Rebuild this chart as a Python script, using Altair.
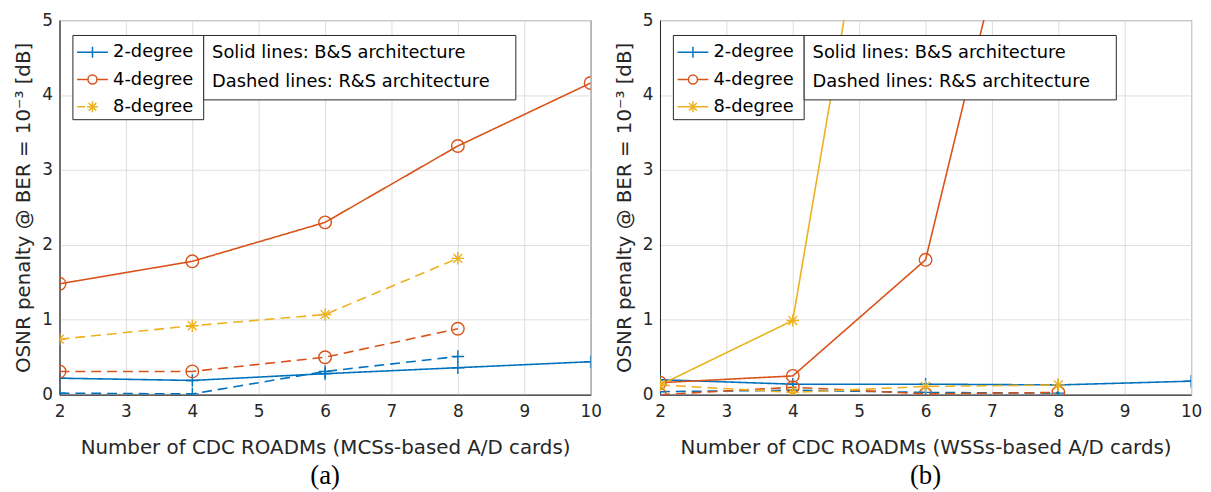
import altair as alt
import pandas as pd

degrees = ["2-degree", "4-degree", "8-degree"]
colors = ["#0072BD", "#D95319", "#EDB120"]
archs = ["B&S", "R&S"]

# Panel (a): MCSs-based A/D cards
a_x5 = [2, 4, 6, 8, 10]
a_x4 = [2, 4, 6, 8]
a_2deg_bs = [0.22, 0.19, 0.28, 0.36, 0.44]
a_4deg_bs = [1.48, 1.78, 2.30, 3.32, 4.16]
a_2deg_rs = [0.02, 0.01, 0.31, 0.51]
a_4deg_rs = [0.31, 0.31, 0.50, 0.88]
a_8deg_rs = [0.74, 0.92, 1.07, 1.82]

# Panel (b): WSSs-based A/D cards
b_x5 = [2, 4, 6, 8, 10]
b_x4 = [2, 4, 6, 8]
b_x3 = [2, 4, 6]
b_2deg_bs = [0.20, 0.14, 0.14, 0.13, 0.18]
b_4deg_bs = [0.16, 0.25, 1.80, 9.1]
b_8deg_bs = [0.13, 0.99, 11.4]
b_2deg_rs = [0.04, 0.06, 0.03, 0.02]
b_4deg_rs = [0.00, 0.10, 0.01, 0.03]
b_8deg_rs = [0.13, 0.03, 0.11, 0.13]

y_title = "OSNR penalty @ BER = 10\u207b\u00b3 [dB]"
font = "DejaVu Sans"


def rows(xs, ys, deg, arch):
    return [{"x": x, "y": y, "degree": deg, "arch": arch} for x, y in zip(xs, ys)]


df_a = pd.DataFrame(
    rows(a_x5, a_2deg_bs, "2-degree", "B&S")
    + rows(a_x5, a_4deg_bs, "4-degree", "B&S")
    + rows(a_x4, a_2deg_rs, "2-degree", "R&S")
    + rows(a_x4, a_4deg_rs, "4-degree", "R&S")
    + rows(a_x4, a_8deg_rs, "8-degree", "R&S")
)
df_b = pd.DataFrame(
    rows(b_x5, b_2deg_bs, "2-degree", "B&S")
    + rows(b_x4, b_4deg_bs, "4-degree", "B&S")
    + rows(b_x3, b_8deg_bs, "8-degree", "B&S")
    + rows(b_x4, b_2deg_rs, "2-degree", "R&S")
    + rows(b_x4, b_4deg_rs, "4-degree", "R&S")
    + rows(b_x4, b_8deg_rs, "8-degree", "R&S")
)

PLUS = "M-1,0H1M0,-1V1"
STAR = "M-1,0H1M0,-1V1M-0.7,-0.7L0.7,0.7M-0.7,0.7L0.7,-0.7"
marker_of = {"2-degree": PLUS, "4-degree": "circle", "8-degree": STAR}

L_PLUS = "M-0.93,0H1.33M0.2,-0.4V0.4"
L_CIRC = "M-0.93,0H-0.13M0.53,0H1.33M-0.13,0A0.33,0.33,0,1,1,0.53,0A0.33,0.33,0,1,1,-0.13,0"
L_STAR_MARK = "M-0.2,0H0.6M0.2,-0.4V0.4M-0.08,-0.28L0.48,0.28M-0.08,0.28L0.48,-0.28"
L_STAR_SOLID = "M-0.93,0H1.33" + L_STAR_MARK
L_STAR_DASH = "M-0.93,0H-0.35" + L_STAR_MARK


def color_legend(star_path):
    shape_expr = (
        "datum.value === '2-degree' ? '" + L_PLUS + "' : datum.value === '4-degree' ? '"
        + L_CIRC + "' : '" + star_path + "'"
    )
    return alt.Legend(
        title="i",
        titleOrient="right",
        titleOpacity=0,
        titleFontSize=18,
        titlePadding=1,
        orient="none",
        legendX=13,
        legendY=15,
        strokeColor="#262626",
        fillColor="white",
        padding=3,
        rowPadding=3.5,
        symbolSize=756,
        symbolType={"expr": shape_expr},
        symbolStrokeWidth=1.5,
        symbolOpacity=1,
        symbolFillColor="transparent",
        labelOffset=9,
        labelFont=font,
        labelFontSize=18,
        labelColor="black",
        labelLimit=400,
    )


arch_legend = alt.Legend(
    title="n",
    titleOrient="right",
    titleOpacity=0,
    titleFontSize=18,
    titlePadding=6,
    orient="none",
    legendX=145,
    legendY=15,
    strokeColor="#262626",
    fillColor="white",
    padding=9,
    rowPadding=11,
    symbolSize=1,
    symbolOpacity=0,
    labelOffset={"expr": "-18"},
    labelFont=font,
    labelFontSize=18,
    labelColor="black",
    labelLimit=500,
    labelExpr="datum.value === 'B&S' ? 'Solid lines: B&S architecture' : 'Dashed lines: R&S architecture'",
)


def panel(df, xtitle, tag, star_path):
    base = alt.Chart(df)
    x = alt.X(
        "x:Q",
        scale=alt.Scale(domain=[2, 10], nice=False),
        axis=alt.Axis(values=list(range(2, 11)), title=xtitle, labelFlush=False,
                      labelPadding=9, titlePadding=18),
    )
    y = alt.Y(
        "y:Q",
        scale=alt.Scale(domain=[0, 5], nice=False),
        axis=alt.Axis(values=[0, 1, 2, 3, 4, 5], title=y_title, labelPadding=7,
                      titlePadding=8),
    )
    leg = color_legend(star_path)
    color = alt.Color("degree:N", scale=alt.Scale(domain=degrees, range=colors), legend=leg)
    lines = base.mark_line(clip=True, strokeWidth=1.6).encode(
        x=x,
        y=y,
        color=color,
        strokeDash=alt.StrokeDash(
            "arch:N",
            scale=alt.Scale(domain=archs, range=[[1, 0], [10, 6]]),
            legend=arch_legend,
        ),
    )
    layers = [lines]
    for deg in degrees:
        if deg not in set(df["degree"]):
            continue
        layers.append(
            base.transform_filter(alt.datum.degree == deg)
            .mark_point(clip=True, filled=False, size=160, strokeWidth=1.4, opacity=1,
                        shape=marker_of[deg])
            .encode(x=x, y=y, color=color)
        )
    return alt.layer(*layers).properties(
        width=536,
        height=378,
        title=alt.TitleParams(
            tag, orient="bottom", font="Liberation Serif", fontSize=27,
            fontWeight="normal", color="black", offset=6, frame="group", anchor="middle",
        ),
    )


left = panel(df_a, "Number of CDC ROADMs (MCSs-based A/D cards)", "(a)", L_STAR_DASH)
right = panel(df_b, "Number of CDC ROADMs (WSSs-based A/D cards)", "(b)", L_STAR_SOLID)

chart = (
    alt.hconcat(left, right, spacing=11)
    .resolve_scale(color="independent", strokeDash="independent")
    .resolve_legend(color="independent", strokeDash="independent")
    .properties(padding={"left": 5, "top": 0, "right": 0, "bottom": 0})
    .configure_view(stroke="#262626", strokeWidth=1)
    .configure_axis(
        labelFont=font,
        labelFontSize=17,
        labelColor="#262626",
        titleFont=font,
        titleFontSize=20,
        titleFontWeight="normal",
        titleColor="#262626",
        domainColor="#262626",
        gridColor="#dedede",
        gridWidth=1,
        ticks=False,
    )
)

chart.save("out.html", embed_options={"renderer": "svg", "actions": False})
